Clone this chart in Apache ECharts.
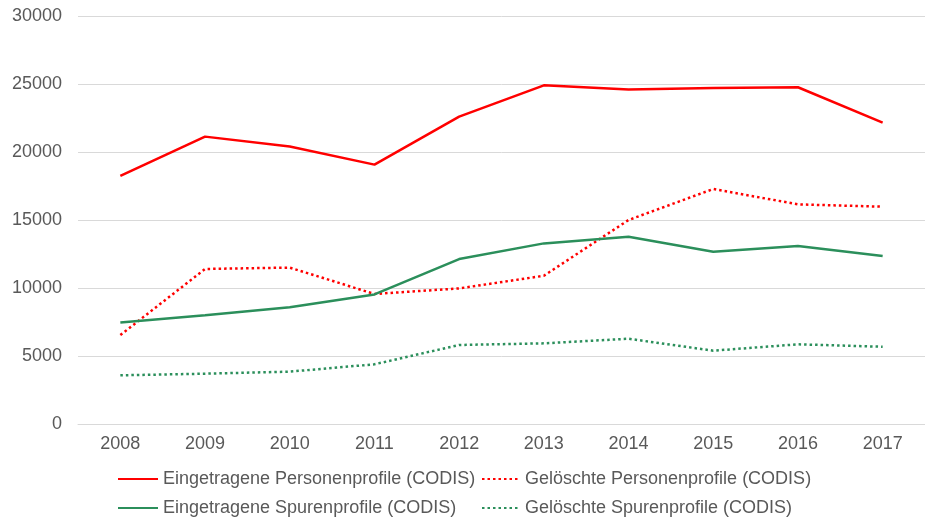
<!DOCTYPE html>
<html>
<head>
<meta charset="utf-8">
<script src="https://cdn.jsdelivr.net/npm/echarts@6/dist/echarts.min.js"></script>
<style>
html,body{margin:0;padding:0;background:#fff;}
#c{width:925px;height:521px;}
</style>
</head>
<body>
<div id="c"></div>
<script>
const years = ['2008','2009','2010','2011','2012','2013','2014','2015','2016','2017'];
const eingetragenePersonen = [18240, 21130, 20400, 19070, 22600, 24900, 24600, 24700, 24760, 22160];
const geloeschtePersonen = [6540, 11400, 11500, 9560, 9970, 10900, 15000, 17280, 16150, 15980];
const eingetrageneSpuren = [7470, 8000, 8580, 9530, 12130, 13280, 13770, 12670, 13090, 12350];
const geloeschteSpuren = [3580, 3700, 3850, 4390, 5810, 5930, 6270, 5390, 5860, 5680];
const seriesNames = [
  'Eingetragene Personenprofile (CODIS)',
  'Gelöschte Personenprofile (CODIS)',
  'Eingetragene Spurenprofile (CODIS)',
  'Gelöschte Spurenprofile (CODIS)'
];
const RED = '#ff0000';
const GREEN = '#2b8f5b';
const font = '"Liberation Sans", Arial, sans-serif';

const chart = echarts.init(document.getElementById('c'), null, {renderer:'canvas'});
const legendText = {color:'#595959', fontSize:18, fontFamily:font};
function mkLegend(name, left, top, w){
  return {orient:'horizontal', left:left, top:top, padding:0, itemWidth:w, itemHeight:18,
          itemGap:0, textStyle:legendText, itemStyle:{opacity:0}, data:[name]};
}
chart.setOption({
  animation:false,
  backgroundColor:'#fff',
  grid:{left:78, top:16, width:855, height:408, containLabel:false},
  xAxis:{
    type:'category', data:years, boundaryGap:true,
    axisLine:{show:true, lineStyle:{color:'#d9d9d9', width:1}},
    axisTick:{show:false},
    axisLabel:{color:'#595959', fontSize:18, fontFamily:font, margin:11},
    splitLine:{show:false}
  },
  yAxis:{
    type:'value', min:0, max:30000, interval:5000,
    axisLine:{show:false}, axisTick:{show:false},
    axisLabel:{color:'#595959', fontSize:18, fontFamily:font, margin:16,
               formatter:function(v){return String(v);}},
    splitLine:{lineStyle:{color:'#d9d9d9', width:1}}
  },
  legend:[
    mkLegend(seriesNames[0], 117, 470, 40),
    mkLegend(seriesNames[2], 117, 499, 40),
    mkLegend(seriesNames[1], 481, 470, 38),
    mkLegend(seriesNames[3], 481, 499, 38)
  ],
  series:[
    {name:seriesNames[0], type:'line', data:eingetragenePersonen, symbol:'none', color:RED,
     lineStyle:{color:RED, width:2.5, type:'solid'}},
    {name:seriesNames[1], type:'line', data:geloeschtePersonen, symbol:'none', color:RED,
     lineStyle:{color:RED, width:2.5, type:[2.5,3]}},
    {name:seriesNames[2], type:'line', data:eingetrageneSpuren, symbol:'none', color:GREEN,
     lineStyle:{color:GREEN, width:2.5, type:'solid'}},
    {name:seriesNames[3], type:'line', data:geloeschteSpuren, symbol:'none', color:GREEN,
     lineStyle:{color:GREEN, width:2.5, type:[2.5,3]}}
  ]
});
</script>
</body>
</html>
